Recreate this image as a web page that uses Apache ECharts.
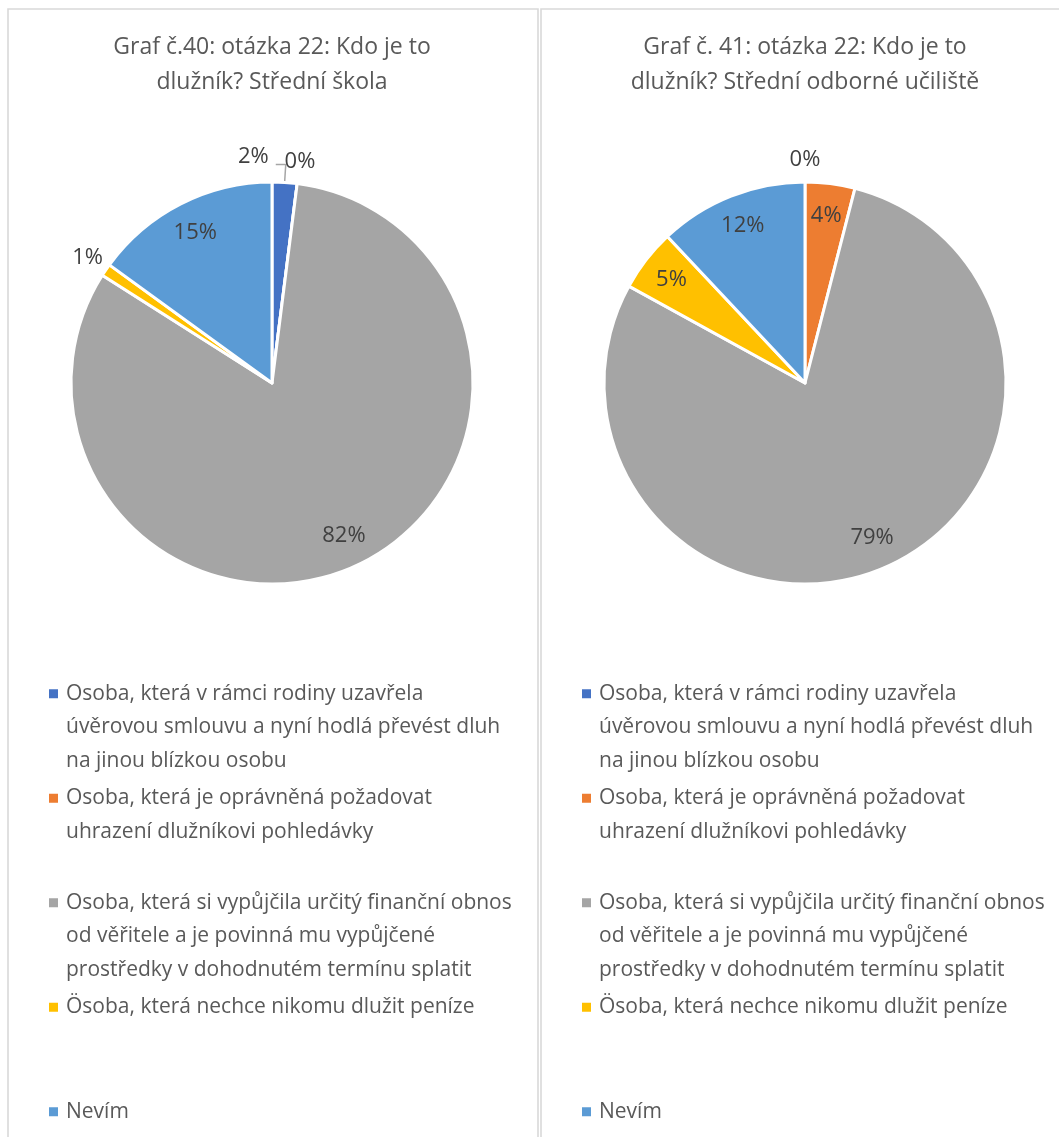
<!DOCTYPE html>
<html>
<head>
<meta charset="utf-8">
<script src="https://cdn.jsdelivr.net/npm/echarts@6/dist/echarts.min.js"></script>
<style>
  html, body { margin: 0; padding: 0; background: #ffffff; }
  #chart { width: 1059px; height: 1137px; }
</style>
</head>
<body>
<div id="chart"></div>
<script>
// Answer categories (shared by both pies)
const categories = [
  'Osoba, která v rámci rodiny uzavřela úvěrovou smlouvu a nyní hodlá převést dluh na jinou blízkou osobu',
  'Osoba, která je oprávněná požadovat uhrazení dlužníkovi pohledávky',
  'Osoba, která si vypůjčila určitý finanční obnos od věřitele a je povinná mu vypůjčené prostředky v dohodnutém termínu splatit',
  'Ösoba, která nechce nikomu dlužit peníze',
  'Nevím'
];

// Legend text broken into lines
const legendLines = [
  ['Osoba, která v rámci rodiny uzavřela', 'úvěrovou smlouvu a nyní hodlá převést dluh', 'na jinou blízkou osobu'],
  ['Osoba, která je oprávněná požadovat', 'uhrazení dlužníkovi pohledávky'],
  ['Osoba, která si vypůjčila určitý finanční obnos', 'od věřitele a je povinná mu vypůjčené', 'prostředky v dohodnutém termínu splatit'],
  ['Ösoba, která nechce nikomu dlužit peníze'],
  ['Nevím']
];

// Shares in percent
const stredniSkola = [2, 0, 82, 1, 15];
const stredniOdborneUciliste = [0, 4, 79, 5, 12];

const chartTitles = [
  'Graf č.40: otázka 22: Kdo je to\ndlužník? Střední škola',
  'Graf č. 41: otázka 22: Kdo je to\ndlužník? Střední odborné učiliště'
];

// Where each slice label sits: 'inside' near the rim, 'rim' just outside, 'leader' with a leader line
const placementSkola = ['leader', 'rim', 'inside', 'rim', 'inside'];
const placementUciliste = ['rim', 'inside', 'inside', 'inside', 'inside'];

const palette = ['#4472C4', '#ED7D31', '#A5A5A5', '#FFC000', '#5B9BD5'];
const FONT = '"Open Sans", "Noto Sans", sans-serif';
const TEXT = '#595959';
const LABEL = '#404040';
const R = 201;
const CY = 383;

// Leader-line label: bend the line to the left and put the text before it
function leaderToLeft(p) {
  const pts = p.labelLinePoints;
  if (!pts || !p.text) return {};
  const bend = pts[1];
  const end = [2 * bend[0] - pts[2][0], pts[2][1]];
  return {
    x: end[0] - 7,
    y: end[1] + 3,
    align: 'right',
    verticalAlign: 'bottom',
    labelLinePoints: [pts[0].slice(), bend.slice(), end]
  };
}

function pieSeries(values, placement, cx) {
  const items = (kind) => values.map((v, i) => ({
    name: categories[i],
    value: v,
    label: { show: placement[i] === kind },
    labelLine: { show: placement[i] === kind }
  }));
  const labelText = { formatter: '{c}%', color: LABEL, fontSize: 22, fontFamily: FONT };
  return [
    {
      type: 'pie',
      center: [cx, CY],
      radius: [0, R],
      startAngle: 90,
      clockwise: true,
      avoidLabelOverlap: false,
      itemStyle: { borderColor: '#ffffff', borderWidth: 3 },
      label: Object.assign({ position: 'outside' }, labelText),
      labelLine: { length: 18, length2: 10, lineStyle: { color: '#A6A6A6', width: 1.5 } },
      labelLayout: leaderToLeft,
      emphasis: { scale: false },
      data: items('leader')
    },
    {
      type: 'pie',
      center: [cx, CY],
      radius: [132, 200],
      startAngle: 90,
      clockwise: true,
      silent: true,
      avoidLabelOverlap: false,
      itemStyle: { color: 'transparent', borderWidth: 0 },
      label: Object.assign({ position: 'inside' }, labelText),
      labelLine: { show: false },
      data: items('inside')
    },
    {
      type: 'pie',
      center: [cx, CY],
      radius: [201, 239],
      startAngle: 90,
      clockwise: true,
      silent: true,
      avoidLabelOverlap: false,
      itemStyle: { color: 'transparent', borderWidth: 0 },
      label: Object.assign({ position: 'inside' }, labelText),
      labelLine: { show: false },
      data: items('rim')
    }
  ];
}

function legendFor(left) {
  return {
    orient: 'vertical',
    left: left,
    top: 677,
    height: 560,
    padding: 0,
    itemWidth: 12,
    itemHeight: 100,
    itemGap: 4,
    // square marker aligned to the first text line of each entry
    icon: 'path://M0,0M0,12h9v9h-9zM12,100',
    symbolKeepAspect: false,
    itemStyle: { borderWidth: 0 },
    selectedMode: false,
    textStyle: { fontSize: 21, color: TEXT, lineHeight: 33.5, fontFamily: FONT },
    formatter: function (name) {
      const lines = legendLines[categories.indexOf(name)].slice();
      while (lines.length < 3) lines.push(' ');
      return lines.join('\n');
    },
    data: categories
  };
}

function titleFor(text, cx) {
  return {
    text: text,
    left: cx,
    top: 30,
    padding: 0,
    textAlign: 'center',
    textStyle: { fontSize: 23, fontWeight: 'normal', color: TEXT, lineHeight: 35, fontFamily: FONT }
  };
}

const chart = echarts.init(document.getElementById('chart'), null, { renderer: 'canvas' });
chart.setOption({
  backgroundColor: '#ffffff',
  color: palette,
  animation: false,
  title: [titleFor(chartTitles[0], 272), titleFor(chartTitles[1], 805)],
  legend: [legendFor(49), legendFor(582)],
  graphic: [
    { type: 'rect', shape: { x: 8, y: 9, width: 530, height: 1200 },
      style: { fill: 'none', stroke: '#D9D9D9', lineWidth: 1.6 }, silent: true, z: -10 },
    { type: 'rect', shape: { x: 541, y: 9, width: 600, height: 1200 },
      style: { fill: 'none', stroke: '#D9D9D9', lineWidth: 1.6 }, silent: true, z: -10 }
  ],
  series: [].concat(
    pieSeries(stredniSkola, placementSkola, 272),
    pieSeries(stredniOdborneUciliste, placementUciliste, 805)
  )
});
</script>
</body>
</html>
